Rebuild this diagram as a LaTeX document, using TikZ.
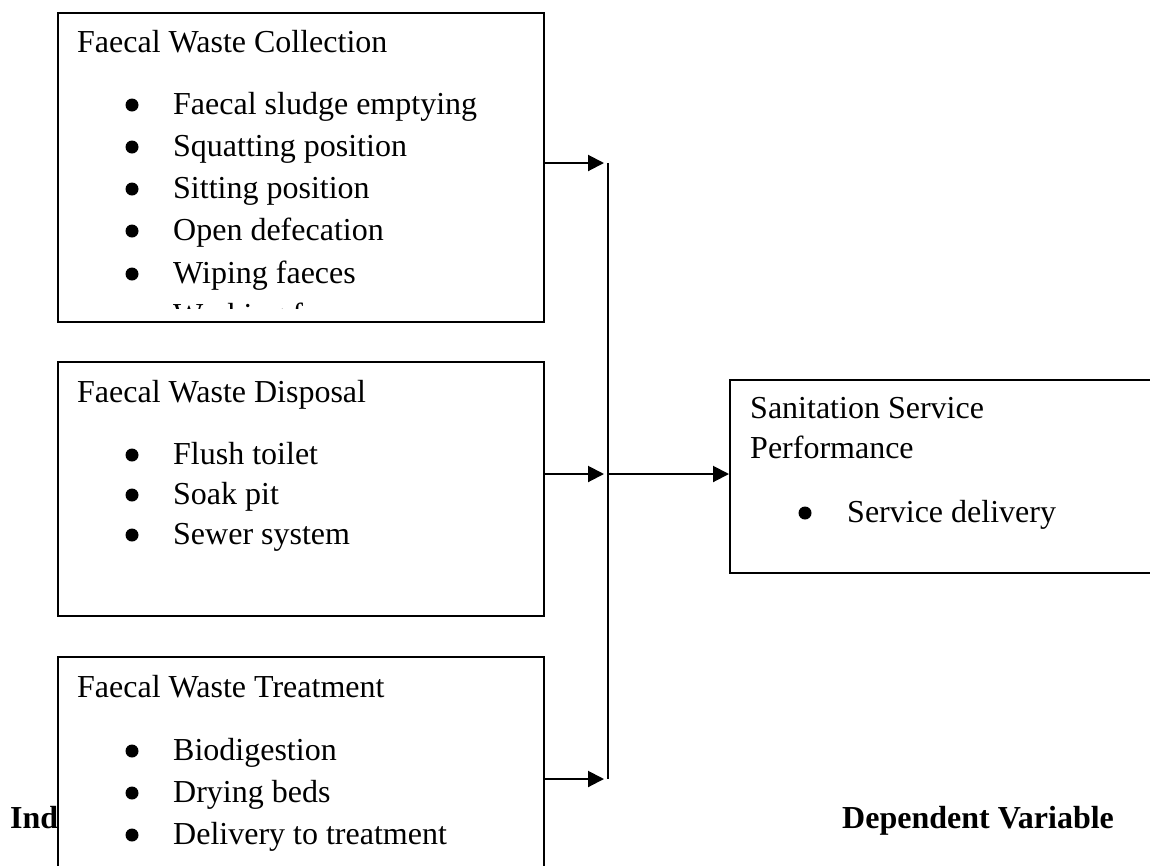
\documentclass[tikz,border=0pt]{standalone}
\usepackage{fontspec}
\setmainfont{Liberation Serif}
\usetikzlibrary{arrows.meta}
\begin{document}
\begin{tikzpicture}[x=1pt,y=-1pt,
  box/.style={draw, line width=1.9pt, inner sep=0, anchor=north west},
  txt/.style={anchor=base west, inner sep=0, font=\fontsize{32}{38}\selectfont},
  hd/.style={anchor=base west, inner sep=0, font=\fontsize{32}{38}\selectfont\bfseries},
  dot/.style={circle, fill, inner sep=0, minimum size=13pt},
  arr/.style={line width=2pt, -{Triangle[length=16pt,width=16pt]}},
  bus/.style={line width=2pt}]
\clip (0,0) rectangle (1150,865);
\fill[white] (0,0) rectangle (1150,865);

% boxes
\node[box, minimum width=486pt, minimum height=309pt] (b1) at (57,12) {};
\node[box, minimum width=486pt, minimum height=254pt] (b2) at (57,361) {};
\node[box, minimum width=486pt, minimum height=260pt] (b3) at (57,656) {};
\node[box, minimum width=424pt, minimum height=193pt] (b4) at (729,379) {};

% box 1
\node[txt] (t1) at (77,52) {Faecal Waste Collection};
\foreach \n/\y/\t in {1/114/Faecal sludge emptying, 2/156/Squatting position, 3/198/Sitting position, 4/240/Open defecation, 5/283/Wiping faeces}{
  \node[dot] (d1\n) at (132,\y-9) {};
  \node[txt] (i1\n) at (173,\y) {\t};
}
\begin{scope}
  \clip (57,12) rectangle (543,308);
  \node[dot] (d16) at (132,317) {};
  \node[txt] (i16) at (173,325) {Washing faeces};
\end{scope}

% box 2
\node[txt] (t2) at (77,402) {Faecal Waste Disposal};
\foreach \n/\y/\t in {1/464/Flush toilet, 2/504/Soak pit, 3/544/Sewer system}{
  \node[dot] (d2\n) at (132,\y-9) {};
  \node[txt] (i2\n) at (173,\y) {\t};
}

% box 3
\node[txt] (t3) at (77,697) {Faecal Waste Treatment};
\foreach \n/\y/\t in {1/760/Biodigestion, 2/802/Drying beds, 3/844/Delivery to treatment}{
  \node[dot] (d3\n) at (132,\y-9) {};
  \node[txt] (i3\n) at (173,\y) {\t};
}

% box 4
\node[txt] (t4a) at (750,418) {Sanitation Service};
\node[txt] (t4b) at (750,458) {Performance};
\node[dot] (d41) at (805,513) {};
\node[txt] (i41) at (847,522) {Service delivery};

% labels
\node[hd] (ind) at (10,828) {Ind};
\node[hd] (dep) at (842,828) {Dependent Variable};

% connectors
\coordinate (bt) at (608,163);
\coordinate (bm) at (608,474);
\coordinate (bb) at (608,779);
\draw[bus] (bt) -- (bb);
\draw[arr] (b1.east |- bt) -- ([xshift=-4pt]bt);
\draw[arr] (b2.east |- bm) -- ([xshift=-4pt]bm);
\draw[arr] (b3.east |- bb) -- ([xshift=-4pt]bb);
\draw[arr] (bm) -- (b4.west |- bm);
\end{tikzpicture}
\end{document}
